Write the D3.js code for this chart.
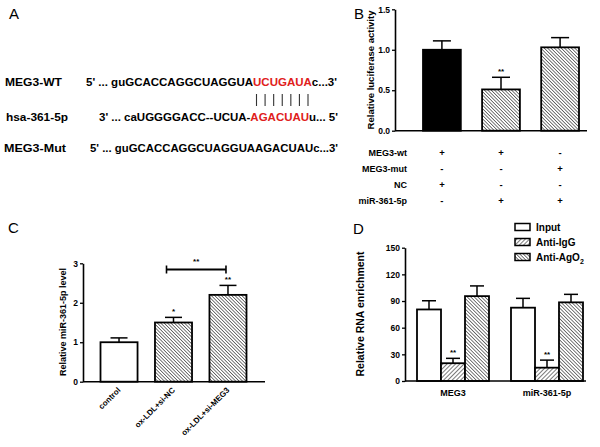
<!DOCTYPE html>
<html>
<head>
<meta charset="utf-8">
<script src="https://cdn.jsdelivr.net/npm/d3@7"></script>
<style>
  body { margin: 0; background: #fff; }
  text { font-family: "Liberation Sans", Arial, sans-serif; }
</style>
</head>
<body>
<div id="chart"></div>
<script>
// ---- data ----
// panel A: sequence alignment
const seqLabels = ['MEG3-WT', 'hsa-361-5p', 'MEG3-Mut'];
const seqParts = [
  [["5' ... guGCACCAGGCUAGGUA", 'black'], ['UCUGAUA', '#e0201b'], ["c...3'", 'black']],
  [["3' ... caUGGGGACC--UCUA-", 'black'], ['AGACUAU', '#e0201b'], ["u... 5'", 'black']],
  [["5' ... guGCACCAGGCUAGGUAAGACUAUc...3'", 'black']]
];
const pairCount = 7;

// panel B: luciferase
const lucGroups = ['g1', 'g2', 'g3'];
const lucMean = [1.0, 0.51, 1.03];
const lucErr = [1.11, 0.66, 1.15];
const lucSig = ['', '**', ''];
const lucFill = ['solid', 'hatchB', 'hatchB'];
const lucTicks = [0, 0.5, 1.0, 1.5];
const lucRows = ['MEG3-wt', 'MEG3-mut', 'NC', 'miR-361-5p'];
const lucSigns = [
  ['+', '+', '-'],
  ['-', '-', '+'],
  ['+', '-', '-'],
  ['-', '+', '+']
];

// panel C: miR-361-5p level
const cCats = ['control', 'ox-LDL+si-NC', 'ox-LDL+si-MEG3'];
const cMean = [1.0, 1.5, 2.2];
const cErr = [1.11, 1.63, 2.44];
const cSig = ['', '*', '**'];
const cFill = ['white', 'hatchC', 'hatchC'];
const cTicks = [0, 1, 2, 3];

// panel D: RIP
const dGroups = ['MEG3', 'miR-361-5p'];
const dSeries = ['Input', 'Anti-IgG', 'Anti-AgO2'];
const dMean = [[80.5, 20, 95.5], [82.5, 15, 88.5]];
const dErr = [[90.3, 25.5, 107], [93, 23.5, 97.5]];
const dSig = [['', '**', ''], ['', '**', '']];
const dFill = ['white', 'hatchIgG', 'hatchAgo'];
const dTicks = [0, 30, 60, 90, 120, 150];

// ---- svg ----
const svg = d3.select('#chart').append('svg')
  .attr('width', 600).attr('height', 447);

const defs = svg.append('defs');
function hatch(id, angle, gap, width) {
  const p = defs.append('pattern')
    .attr('id', id)
    .attr('patternUnits', 'userSpaceOnUse')
    .attr('width', gap).attr('height', gap)
    .attr('patternTransform', `rotate(${angle})`);
  p.append('rect').attr('width', gap).attr('height', gap).attr('fill', '#fff');
  p.append('line').attr('x1', 0).attr('y1', 0).attr('x2', 0).attr('y2', gap)
    .attr('stroke', '#222').attr('stroke-width', width);
}
hatch('hatchB', -45, 2.4, 1.2);
hatch('hatchC', -45, 2.4, 1.2);
hatch('hatchIgG', 45, 3.0, 1.2);
hatch('hatchAgo', -45, 2.5, 1.2);

function fillOf(f) {
  if (f === 'solid') return '#000';
  if (f === 'white') return '#fff';
  return `url(#${f})`;
}

function panelLetter(t, x, y) {
  svg.append('text').attr('x', x).attr('y', y)
    .attr('font-size', 15).text(t);
}

function yAxis(g, y, ticks, x, fmt) {
  g.append('g')
    .attr('transform', `translate(${x},0)`)
    .call(d3.axisLeft(y).tickValues(ticks).tickSize(3).tickSizeOuter(0).tickPadding(2).tickFormat(fmt))
    .call(a => a.select('.domain').attr('stroke-width', 1.6))
    .call(a => a.selectAll('.tick line').attr('stroke-width', 1.3))
    .call(a => a.selectAll('text').attr('font-size', 8.5).attr('font-weight', 'bold')
      .attr('font-family', '"Liberation Sans", Arial, sans-serif'));
}

function yTitle(t, x, yc, size) {
  svg.append('text')
    .attr('transform', `translate(${x},${yc}) rotate(-90)`)
    .attr('text-anchor', 'middle')
    .attr('font-size', size).attr('font-weight', 'bold')
    .text(t);
}

function errBar(g, cx, yTop, yErr, half) {
  g.append('line').attr('x1', cx).attr('x2', cx).attr('y1', yTop).attr('y2', yErr)
    .attr('stroke', '#000').attr('stroke-width', 1.5);
  g.append('line').attr('x1', cx - half).attr('x2', cx + half).attr('y1', yErr).attr('y2', yErr)
    .attr('stroke', '#000').attr('stroke-width', 1.5);
}

// ---- panel A ----
panelLetter('A', 9, 19);
const seqY = [86, 121, 152];
const seqX = [86, 99, 90];
const seqW = [251, 239, 248];
const labelW = [57, 62, 62];
const labelX = [5, 6, 4];
seqLabels.forEach((l, i) => {
  svg.append('text').attr('x', labelX[i]).attr('y', seqY[i])
    .attr('font-size', 11).attr('font-weight', 'bold')
    .attr('textLength', labelW[i]).attr('lengthAdjust', 'spacingAndGlyphs')
    .text(l);
  const t = svg.append('text').attr('x', seqX[i]).attr('y', seqY[i])
    .attr('font-size', 11).attr('font-weight', 'bold')
    .attr('textLength', seqW[i]).attr('lengthAdjust', 'spacingAndGlyphs');
  seqParts[i].forEach(p => t.append('tspan').attr('fill', p[1]).text(p[0]));
});
const pairX = d3.scaleLinear().domain([0, pairCount - 1]).range([256.5, 308]);
svg.append('g').selectAll('line').data(d3.range(pairCount)).join('line')
  .attr('x1', d => pairX(d)).attr('x2', d => pairX(d))
  .attr('y1', 94).attr('y2', 106)
  .attr('stroke', '#333').attr('stroke-width', 1.1);

// ---- panel B ----
panelLetter('B', 354, 19);
const gB = svg.append('g');
const yB = d3.scaleLinear().domain([0, 1.5]).range([130.7, 9.3]);
const xB = d3.scaleBand().domain(lucGroups).range([423, 579]).paddingInner(0.36);
const bwB = xB.bandwidth();
lucGroups.forEach((g, i) => {
  const cx = xB(g) + bwB / 2;
  errBar(gB, cx, yB(lucMean[i]), yB(lucErr[i]), 9);
  gB.append('rect').attr('x', xB(g)).attr('width', bwB)
    .attr('y', yB(lucMean[i])).attr('height', yB(0) - yB(lucMean[i]))
    .attr('fill', fillOf(lucFill[i])).attr('stroke', '#000').attr('stroke-width', 1.8);
  if (lucSig[i]) gB.append('text').attr('x', cx).attr('y', yB(lucErr[i]) - 3)
    .attr('text-anchor', 'middle').attr('font-size', 8).attr('font-weight', 'bold').text(lucSig[i]);
});
gB.append('line').attr('x1', 395).attr('x2', 587).attr('y1', yB(0)).attr('y2', yB(0))
  .attr('stroke', '#000').attr('stroke-width', 1.6);
yAxis(gB, yB, lucTicks, 395, d3.format('.1f'));
yTitle('Relative luciferase activity', 374, 70, 9.5);
const rowY = [156, 172, 188, 204];
lucRows.forEach((r, j) => {
  gB.append('text').attr('x', 407).attr('y', rowY[j]).attr('text-anchor', 'end')
    .attr('font-size', 9).attr('font-weight', 'bold').text(r);
  lucGroups.forEach((g, i) => {
    gB.append('text').attr('x', xB(g) + bwB / 2).attr('y', rowY[j])
      .attr('text-anchor', 'middle').attr('font-size', 9.5).attr('font-weight', 'bold')
      .text(lucSigns[j][i]);
  });
});

// ---- panel C ----
panelLetter('C', 8, 233);
const gC = svg.append('g');
const yC = d3.scaleLinear().domain([0, 3]).range([381.7, 263.3]);
const xC = d3.scaleBand().domain(cCats).range([100.5, 246.5]).paddingInner(0.32);
const bwC = xC.bandwidth();
cCats.forEach((c, i) => {
  const cx = xC(c) + bwC / 2;
  errBar(gC, cx, yC(cMean[i]), yC(cErr[i]), 8.5);
  gC.append('rect').attr('x', xC(c)).attr('width', bwC)
    .attr('y', yC(cMean[i])).attr('height', yC(0) - yC(cMean[i]))
    .attr('fill', fillOf(cFill[i])).attr('stroke', '#000').attr('stroke-width', 1.8);
  if (cSig[i]) gC.append('text').attr('x', cx).attr('y', yC(cErr[i]) - 3)
    .attr('text-anchor', 'middle').attr('font-size', 8).attr('font-weight', 'bold').text(cSig[i]);
  gC.append('text')
    .attr('transform', `translate(${cx + 2},${yC(0) + 9}) rotate(-45)`)
    .attr('text-anchor', 'end').attr('font-size', 8).attr('font-weight', 'bold')
    .text(c);
});
gC.append('line').attr('x1', 83).attr('x2', 265).attr('y1', yC(0)).attr('y2', yC(0))
  .attr('stroke', '#000').attr('stroke-width', 1.6);
yAxis(gC, yC, cTicks, 83, d3.format('d'));
yTitle('Relative miR-361-5p level', 66, 322, 9);
// comparison bracket between si-NC and si-MEG3
const bx1 = xC(cCats[1]) + bwC / 2 - 7, bx2 = xC(cCats[2]) + bwC / 2 - 2, by = 269.5;
gC.append('line').attr('x1', bx1).attr('x2', bx2).attr('y1', by).attr('y2', by)
  .attr('stroke', '#000').attr('stroke-width', 1.8);
[bx1, bx2].forEach(x => gC.append('line').attr('x1', x).attr('x2', x)
  .attr('y1', by - 4).attr('y2', by + 4).attr('stroke', '#000').attr('stroke-width', 1.6));
gC.append('text').attr('x', (bx1 + bx2) / 2).attr('y', by - 6)
  .attr('text-anchor', 'middle').attr('font-size', 8).attr('font-weight', 'bold').text('**');

// ---- panel D ----
panelLetter('D', 353, 234);
const gD = svg.append('g');
const yD = d3.scaleLinear().domain([0, 150]).range([381, 247.7]);
const x0 = d3.scaleBand().domain(dGroups).range([406, 594]).paddingInner(0.234).paddingOuter(0.117);
const x1 = d3.scaleBand().domain(dSeries).range([0, x0.bandwidth()]);
const bwD = x1.bandwidth();
dGroups.forEach((g, gi) => {
  dSeries.forEach((s, si) => {
    const x = x0(g) + x1(s);
    const cx = x + bwD / 2;
    errBar(gD, cx, yD(dMean[gi][si]), yD(dErr[gi][si]), 7);
    gD.append('rect').attr('x', x).attr('width', bwD)
      .attr('y', yD(dMean[gi][si])).attr('height', yD(0) - yD(dMean[gi][si]))
      .attr('fill', fillOf(dFill[si])).attr('stroke', '#000').attr('stroke-width', 1.8);
    if (dSig[gi][si]) gD.append('text').attr('x', cx).attr('y', yD(dErr[gi][si]) - 3)
      .attr('text-anchor', 'middle').attr('font-size', 8).attr('font-weight', 'bold').text(dSig[gi][si]);
  });
  gD.append('text').attr('x', x0(g) + x0.bandwidth() / 2).attr('y', 396)
    .attr('text-anchor', 'middle').attr('font-size', 9).attr('font-weight', 'bold').text(g);
});
gD.append('line').attr('x1', 405).attr('x2', 586).attr('y1', yD(0)).attr('y2', yD(0))
  .attr('stroke', '#000').attr('stroke-width', 1.6);
yAxis(gD, yD, dTicks, 405, d3.format('d'));
yTitle('Relative RNA enrichment', 364, 314, 10.5);

// legend
const legY = [227, 242, 257];
dSeries.forEach((s, i) => {
  gD.append('rect').attr('x', 515).attr('y', legY[i] - 3.5).attr('width', 15).attr('height', 7)
    .attr('fill', fillOf(dFill[i])).attr('stroke', '#000').attr('stroke-width', 1.5);
  const t = gD.append('text').attr('x', 536).attr('y', legY[i] + 4)
    .attr('font-size', 10).attr('font-weight', 'bold');
  if (s === 'Anti-AgO2') {
    t.append('tspan').text('Anti-AgO');
    t.append('tspan').attr('font-size', 7).attr('dy', 2.5).text('2');
  } else {
    t.text(s);
  }
});
</script>
</body>
</html>
